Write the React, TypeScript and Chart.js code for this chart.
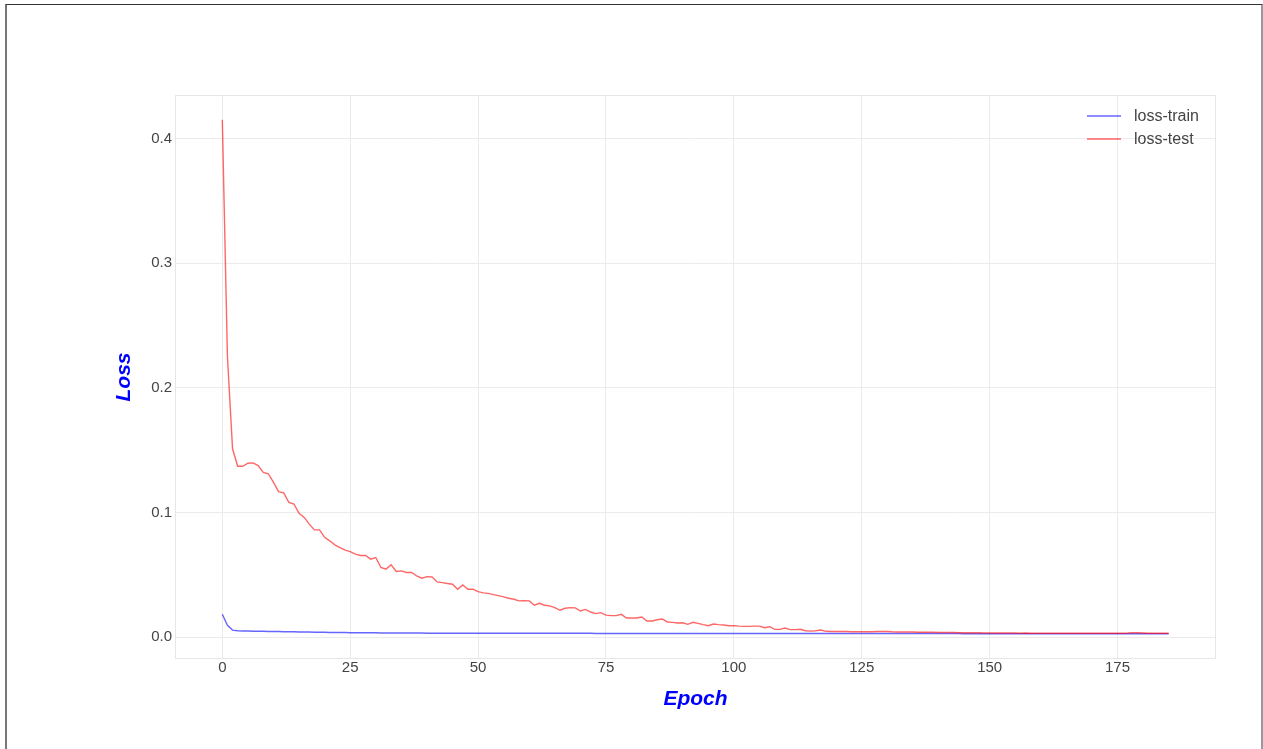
import React, { useEffect, useRef } from "react";
import { Chart, registerables } from "chart.js";

Chart.register(...registerables);

const seriesNames = ["loss-train", "loss-test"];
const seriesColors = ["rgba(0,0,255,0.6)", "rgba(255,0,0,0.6)"];

const trainLoss = [
  0.0183, 0.0094, 0.0056, 0.0051, 0.0049, 0.0048, 0.0047, 0.0047, 0.0046, 0.0045,
  0.0044, 0.0044, 0.0043, 0.0042, 0.0042, 0.0041, 0.004, 0.004, 0.0039, 0.0038,
  0.0038, 0.0037, 0.0037, 0.0036, 0.0036, 0.0035, 0.0035, 0.0035, 0.0034, 0.0034,
  0.0034, 0.0033, 0.0033, 0.0033, 0.0033, 0.0032, 0.0032, 0.0032, 0.0032, 0.0032,
  0.0031, 0.0031, 0.0031, 0.0031, 0.0031, 0.0031, 0.0031, 0.0031, 0.0031, 0.0031,
  0.0031, 0.0031, 0.0031, 0.0031, 0.003, 0.003, 0.003, 0.003, 0.003, 0.003,
  0.003, 0.003, 0.003, 0.003, 0.003, 0.003, 0.003, 0.003, 0.003, 0.003,
  0.003, 0.003, 0.003, 0.0029, 0.0029, 0.0029, 0.0029, 0.0029, 0.0029, 0.0029,
  0.0029, 0.0029, 0.0029, 0.0029, 0.0029, 0.0029, 0.0029, 0.0029, 0.0029, 0.0029,
  0.0029, 0.0029, 0.0029, 0.0029, 0.0029, 0.0029, 0.0029, 0.0029, 0.0029, 0.0029,
  0.0029, 0.0029, 0.0029, 0.0029, 0.0029, 0.0028, 0.0028, 0.0028, 0.0028, 0.0028,
  0.0028, 0.0028, 0.0028, 0.0028, 0.0028, 0.0028, 0.0028, 0.0028, 0.0028, 0.0028,
  0.0028, 0.0028, 0.0028, 0.0028, 0.0028, 0.0028, 0.0028, 0.0028, 0.0028, 0.0028,
  0.0028, 0.0028, 0.0028, 0.0028, 0.0028, 0.0028, 0.0028, 0.0028, 0.0028, 0.0028,
  0.0028, 0.0028, 0.0028, 0.0028, 0.0028, 0.0027, 0.0027, 0.0027, 0.0027, 0.0027,
  0.0027, 0.0027, 0.0027, 0.0027, 0.0027, 0.0027, 0.0027, 0.0027, 0.0027, 0.0027,
  0.0027, 0.0027, 0.0027, 0.0027, 0.0027, 0.0027, 0.0027, 0.0027, 0.0027, 0.0027,
  0.0027, 0.0027, 0.0027, 0.0027, 0.0027, 0.0027, 0.0027, 0.0027, 0.0027, 0.0027,
  0.0027, 0.0027, 0.0027, 0.0027, 0.0027, 0.0027,
];

const testLoss = [
  0.415, 0.225, 0.151, 0.137, 0.137, 0.1394, 0.1397, 0.1376, 0.132, 0.131,
  0.124, 0.1167, 0.1156, 0.108, 0.1067, 0.0992, 0.096, 0.0906, 0.086, 0.086,
  0.08, 0.0772, 0.074, 0.0718, 0.0697, 0.0686, 0.0665, 0.0654, 0.0654, 0.0625,
  0.0638, 0.0558, 0.0545, 0.058, 0.0526, 0.0531, 0.0518, 0.0518, 0.049, 0.0472,
  0.0485, 0.0482, 0.0442, 0.0437, 0.043, 0.0424, 0.0384, 0.0418, 0.0384, 0.0384,
  0.0364, 0.0354, 0.035, 0.034, 0.0332, 0.0322, 0.0311, 0.0303, 0.029, 0.0292,
  0.029, 0.0255, 0.0271, 0.0255, 0.025, 0.0236, 0.0215, 0.0231, 0.0236, 0.0234,
  0.0209, 0.0222, 0.0201, 0.0188, 0.0196, 0.0176, 0.0172, 0.0172, 0.0182, 0.0153,
  0.0153, 0.0153, 0.0161, 0.0129, 0.0129, 0.0139, 0.0145, 0.0121, 0.0118, 0.0113,
  0.0115, 0.0102, 0.0118, 0.011, 0.01, 0.0091, 0.0105, 0.01, 0.0097, 0.0091,
  0.0092, 0.0088, 0.0086, 0.0086, 0.0088, 0.0088, 0.0075, 0.0083, 0.0062, 0.0062,
  0.0072, 0.006, 0.006, 0.0062, 0.0051, 0.0048, 0.0051, 0.0056, 0.0046, 0.0045,
  0.0045, 0.0044, 0.0044, 0.0043, 0.0043, 0.0042, 0.0042, 0.0043, 0.0044, 0.0045,
  0.0044, 0.0042, 0.0041, 0.0041, 0.004, 0.004, 0.0039, 0.0039, 0.0038, 0.0038,
  0.0037, 0.0037, 0.0036, 0.0036, 0.0035, 0.0035, 0.0034, 0.0035, 0.0034, 0.0033,
  0.0033, 0.0033, 0.0032, 0.0032, 0.0032, 0.0032, 0.0031, 0.0032, 0.0031, 0.0031,
  0.0031, 0.0031, 0.0031, 0.003, 0.0031, 0.0031, 0.003, 0.003, 0.0031, 0.003,
  0.003, 0.003, 0.003, 0.0031, 0.003, 0.003, 0.0031, 0.0032, 0.0034, 0.0035,
  0.0033, 0.0031, 0.003, 0.003, 0.003, 0.003,
];

const xTicks = [0, 25, 50, 75, 100, 125, 150, 175];
const yTicks = [0, 0.1, 0.2, 0.3, 0.4];
const xRange = [-9.25, 194.25];
const yRange = [-0.0176, 0.4348];
const xTitle = "Epoch";
const yTitle = "Loss";

const FONT = "'Liberation Sans', Arial, sans-serif";

const frameAndLegend = {
  id: "frameAndLegend",
  beforeDatasetsDraw(chart: any) {
    const { ctx, chartArea } = chart;
    ctx.save();
    ctx.strokeStyle = "#e6e6e6";
    ctx.lineWidth = 1;
    ctx.strokeRect(
      Math.round(chartArea.left) + 0.5,
      Math.round(chartArea.top) + 0.5,
      Math.round(chartArea.right - chartArea.left) - 1,
      Math.round(chartArea.bottom - chartArea.top) - 1
    );
    ctx.restore();
  },
  afterDatasetsDraw(chart: any) {
    const { ctx, chartArea } = chart;
    ctx.save();
    ctx.font = `16px ${FONT}`;
    ctx.textAlign = "left";
    ctx.textBaseline = "middle";
    seriesNames.forEach((name, i) => {
      const y = chartArea.top + 21 + i * 23;
      ctx.strokeStyle = seriesColors[i];
      ctx.lineWidth = 1.5;
      ctx.beginPath();
      ctx.moveTo(chartArea.right - 129, y);
      ctx.lineTo(chartArea.right - 95, y);
      ctx.stroke();
      ctx.fillStyle = "#444";
      ctx.fillText(name, chartArea.right - 82, y + 1);
    });
    ctx.restore();
  },
};

export default function App() {
  const canvasRef = useRef<HTMLCanvasElement | null>(null);

  useEffect(() => {
    const canvas = canvasRef.current;
    if (!canvas) return;
    const chart = new Chart(canvas, {
      type: "line",
      data: {
        datasets: [
          {
            label: seriesNames[0],
            data: trainLoss.map((v, i) => ({ x: i, y: v })),
            borderColor: seriesColors[0],
            backgroundColor: seriesColors[0],
            borderWidth: 1.4,
            pointRadius: 0,
            tension: 0,
            order: 2,
          },
          {
            label: seriesNames[1],
            data: testLoss.map((v, i) => ({ x: i, y: v })),
            borderColor: seriesColors[1],
            backgroundColor: seriesColors[1],
            borderWidth: 1.4,
            pointRadius: 0,
            tension: 0,
            order: 1,
          },
        ],
      },
      options: {
        responsive: false,
        animation: false,
        events: [],
        layout: { padding: { left: 109, right: 47, top: 95, bottom: 0 } },
        plugins: {
          legend: { display: false },
          tooltip: { enabled: false },
        },
        scales: {
          x: {
            type: "linear",
            min: xRange[0],
            max: xRange[1],
            afterBuildTicks: (scale: any) => {
              scale.ticks = xTicks.map((v) => ({ value: v }));
            },
            afterFit: (scale: any) => {
              scale.height = 90;
            },
            grid: { color: "#ebebeb", lineWidth: 1, drawTicks: false },
            border: { display: false },
            ticks: {
              padding: 0,
              color: "#444",
              font: { family: FONT, size: 15 },
              callback: (v: any) => String(v),
            },
            title: {
              display: true,
              text: xTitle,
              color: "#0000ff",
              font: { family: FONT, size: 21, weight: "bold", style: "italic" },
              padding: { top: 0, bottom: 37 },
            },
          },
          y: {
            type: "linear",
            min: yRange[0],
            max: yRange[1],
            afterBuildTicks: (scale: any) => {
              scale.ticks = yTicks.map((v) => ({ value: v }));
            },
            afterFit: (scale: any) => {
              scale.width = 66;
            },
            grid: { color: "#ebebeb", lineWidth: 1, drawTicks: false },
            border: { display: false },
            ticks: {
              padding: 3,
              color: "#444",
              font: { family: FONT, size: 15 },
              callback: (v: any) => Number(v).toFixed(1),
            },
            title: {
              display: true,
              text: yTitle,
              color: "#0000ff",
              font: { family: FONT, size: 21, weight: "bold", style: "italic" },
              padding: { top: 3, bottom: 0 },
            },
          },
        },
      },
      plugins: [frameAndLegend],
    });
    return () => chart.destroy();
  }, []);

  return (
    <div>
      <canvas
        ref={canvasRef}
        width={1263}
        height={749}
        style={{ position: "fixed", left: 0, top: 0, width: 1263, height: 749, display: "block" }}
      />
      <div
        style={{
          position: "fixed",
          left: 5,
          top: 4,
          width: 1254,
          height: 800,
          borderLeft: "2px solid #777",
          borderTop: "1.5px solid #333",
          borderRight: "2px solid #999",
          pointerEvents: "none",
        }}
      />
    </div>
  );
}
